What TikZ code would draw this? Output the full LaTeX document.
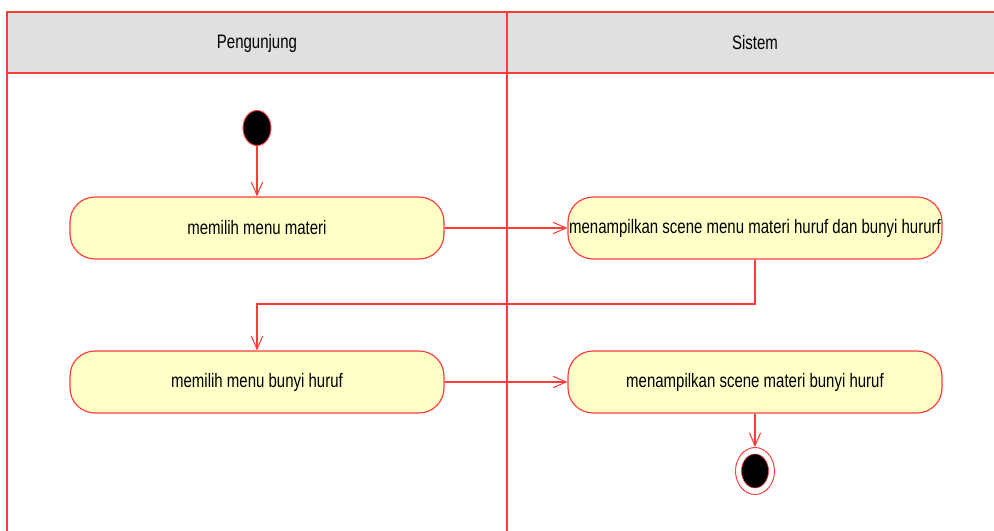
\documentclass[tikz,border=0pt]{standalone}
\usepackage{fontspec}
\setmainfont{Liberation Sans}
\usetikzlibrary{arrows.meta,shapes.geometric}
\definecolor{umlred}{RGB}{255,60,60}
\definecolor{umlyellow}{RGB}{255,255,200}
\definecolor{lanegray}{RGB}{224,224,224}
% stretched label text
\newcommand{\lbl}[1]{\scalebox{1}[1.3]{\fontsize{12.8}{15}\selectfont #1}}
\begin{document}
\begin{tikzpicture}[x=0.03cm,y=-0.03cm,
    lane/.style={draw=umlred, line width=0.9pt},
    action/.style={rectangle, rounded corners=0.75cm, draw=umlred, fill=umlyellow,
      line width=1pt, minimum width=11.22cm, minimum height=1.86cm, inner sep=0pt},
    startnode/.style={ellipse, draw=umlred, fill=black, line width=0.8pt,
      minimum width=0.84cm, minimum height=1.05cm, inner sep=0pt},
    endnode/.style={ellipse, draw=umlred, fill=white, line width=0.8pt,
      minimum width=1.17cm, minimum height=1.41cm, inner sep=0pt,
      path picture={\draw[umlred, fill=black, line width=0.5pt]
        (path picture bounding box.center) ellipse (0.405cm and 0.51cm);}},
    flow/.style={draw=umlred, line width=0.9pt, -{Straight Barb[length=3.9mm,width=3.4mm]}}]
  \useasboundingbox (0,0) rectangle (994,531);
  % swimlanes
  \fill[lanegray] (7,12) rectangle (994,73);
  \draw[lane] (994,12) -- (7,12) -- (7,531);
  \draw[lane] (7,73) -- (994,73);
  \draw[lane] (507,12) -- (507,531);
  \node (pengunjung) at (257,43) {\lbl{Pengunjung}};
  \node (sistem) at (755,43) {\lbl{Sistem}};
  % states
  \node[startnode] (start) at (257,128) {};
  \node[action] (pilihmateri) at (257,228) {\lbl{memilih menu materi}};
  \node[action] (scenemateri) at (755,228) {\lbl{menampilkan scene menu materi huruf dan bunyi hururf}};
  \node[action] (pilihbunyi) at (257,382) {\lbl{memilih menu bunyi huruf}};
  \node[action] (scenebunyi) at (755,382) {\lbl{menampilkan scene materi bunyi huruf}};
  \node[endnode] (end) at (755,471) {};
  % transitions
  \coordinate (turn) at (0,304);
  \draw[flow] (start) -- (pilihmateri);
  \draw[flow] (pilihmateri) -- (scenemateri);
  \draw[flow] (scenemateri.south) -- (scenemateri.south |- turn) -| (pilihbunyi.north);
  \draw[flow] (pilihbunyi) -- (scenebunyi);
  \draw[flow] (scenebunyi) -- (end);
\end{tikzpicture}
\end{document}
